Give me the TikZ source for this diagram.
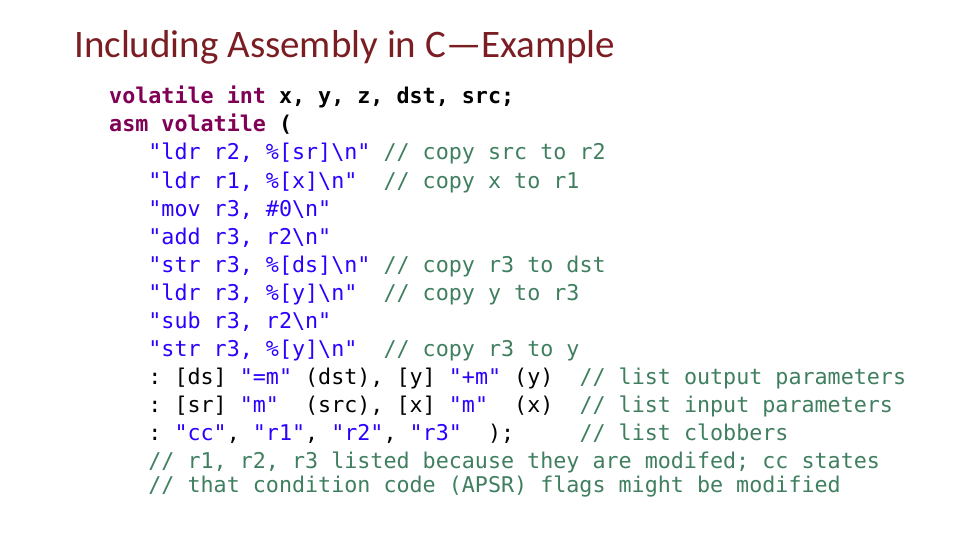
\documentclass[tikz,border=0pt]{standalone}
\usepackage{fontspec}
\setmainfont{Carlito}
\setmonofont{DejaVu Sans Mono}
\definecolor{kwcolor}{HTML}{7F0055}
\definecolor{strcolor}{HTML}{2A00FF}
\definecolor{cmtcolor}{HTML}{3F7F5F}
\definecolor{titlecolor}{HTML}{7A1E24}
\newcommand{\kw}[1]{\textcolor{kwcolor}{\bfseries #1}}
\newcommand{\vr}[1]{{\bfseries #1}}
\newcommand{\st}[1]{\textcolor{strcolor}{#1}}
\newcommand{\cm}[1]{\textcolor{cmtcolor}{#1}}
\newcommand{\nl}{\textbackslash n}
\tikzset{x=1pt, y=-1pt,
code line/.style={anchor=base west, inner sep=0pt, font=\ttfamily\fontsize{21.7}{24}\selectfont},
title line/.style={anchor=base west, inner sep=0pt, font=\fontsize{39}{42}\selectfont, text=titlecolor}}
\begin{document}
\begin{tikzpicture}
    \useasboundingbox (0,0) rectangle (960,540);
    \node[title line] (title) at (74,58) {Including Assembly in C---Example};

    \node[code line] (l1) at (109,104) {\kw{volatile~int}~\vr{x,~y,~z,~dst,~src;}};
    \node[code line] (l2) at (109,132) {\kw{asm~volatile}~\vr{(}};
    \node[code line] (l3) at (109,160) {~~~\st{"ldr~r2,~\%[sr]\nl"}~\cm{//~copy~src~to~r2}};
    \node[code line] (l4) at (109,188) {~~~\st{"ldr~r1,~\%[x]\nl"}~~\cm{//~copy~x~to~r1}};
    \node[code line] (l5) at (109,216) {~~~\st{"mov~r3,~\#0\nl"}};
    \node[code line] (l6) at (109,244) {~~~\st{"add~r3,~r2\nl"}};
    \node[code line] (l7) at (109,272) {~~~\st{"str~r3,~\%[ds]\nl"}~\cm{//~copy~r3~to~dst}};
    \node[code line] (l8) at (109,300) {~~~\st{"ldr~r3,~\%[y]\nl"}~~\cm{//~copy~y~to~r3}};
    \node[code line] (l9) at (109,328) {~~~\st{"sub~r3,~r2\nl"}};
    \node[code line] (l10) at (109,356) {~~~\st{"str~r3,~\%[y]\nl"}~~\cm{//~copy~r3~to~y}};
    \node[code line] (l11) at (109,384) {~~~:~[ds]~\st{"=m"}~(dst),~[y]~\st{"+m"}~(y)~~\cm{//~list~output~parameters}};
    \node[code line] (l12) at (109,412) {~~~:~[sr]~\st{"m"}~~(src),~[x]~\st{"m"}~~(x)~~\cm{//~list~input~parameters}};
    \node[code line] (l13) at (109,440) {~~~:~\st{"cc"},~\st{"r1"},~\st{"r2"},~\st{"r3"}~~);~~~~~\cm{//~list~clobbers}};
    \node[code line] (l14) at (109,468) {~~~\cm{//~r1,~r2,~r3~listed~because~they~are~modifed;~cc~states}};
    \node[code line] (l15) at (109,492) {~~~\cm{//~that~condition~code~(APSR)~flags~might~be~modified}};
\end{tikzpicture}
\end{document}
